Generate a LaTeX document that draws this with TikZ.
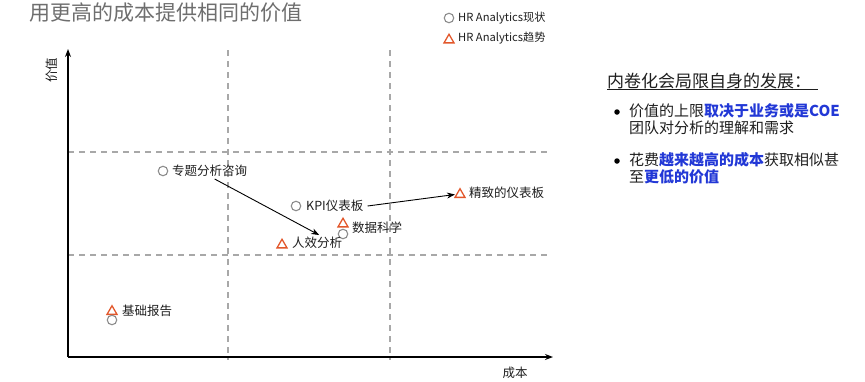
\documentclass[tikz,border=0pt]{standalone}
\usepackage{fontspec}
\setmainfont{Noto Sans CJK SC}
\usetikzlibrary{shapes.geometric,arrows.meta}
\definecolor{dashgray}{HTML}{A8A8A8}
\definecolor{markgray}{HTML}{8C8C8C}
\definecolor{triorange}{HTML}{E2572B}
\definecolor{titlegray}{HTML}{6E6E6E}
\definecolor{labelcol}{HTML}{1E1E1E}
\definecolor{hlblue}{HTML}{2238D6}
\begin{document}
\begin{tikzpicture}[x=1pt,y=-1pt,
  circ/.style={circle, draw=markgray, line width=1.1pt, minimum size=9.5pt, inner sep=0pt},
  tri/.style={regular polygon, regular polygon sides=3, draw=triorange, line width=1.3pt, minimum size=11.5pt, inner sep=0pt},
  lbl/.style={anchor=west, font=\fontsize{12.5}{14}\selectfont, text=labelcol, inner sep=0pt},
  legend/.style={anchor=west, font=\fontsize{11.2}{13}\selectfont, text=labelcol, inner sep=0pt},
  body/.style={anchor=west, font=\fontsize{15}{17}\selectfont, text=labelcol, inner sep=0pt},
  grid/.style={draw=dashgray, line width=1.2pt, dash pattern=on 6pt off 5pt},
  axis/.style={draw=black, line width=1.3pt, -{Stealth[length=8pt,width=6pt]}},
  conn/.style={draw=black, line width=0.9pt, -{Stealth[length=8pt,width=6pt]}},
  bullet/.style={circle, fill=black, minimum size=5.5pt, inner sep=0pt}
]
\useasboundingbox (0,0) rectangle (865,381);

% title
\node[anchor=west, font=\fontsize{21}{24}\selectfont, text=titlegray, inner sep=0pt] (title) at (29,13) {用更高的成本提供相同的价值};

% legend
\node[circ] (lgc) at (449,18) {};
\node[legend] (lgct) at (458,18) {HR Analytics现状};
\node[tri] (lgt) at (449,40) {};
\node[legend] (lgtt) at (458,38) {HR Analytics趋势};

% grid
\draw[grid] (228,50) -- (228,360);
\draw[grid] (390,50) -- (390,360);
\draw[grid] (68,152) -- (548,152);
\draw[grid] (68,255) -- (548,255);

% axes
\coordinate (O) at (68,357);
\coordinate (Ytop) at (68,49);
\coordinate (Xend) at (553,357);
\draw[axis] (O) -- (Ytop);
\draw[axis] (O) -- (Xend);
\node[font=\fontsize{12.5}{14}\selectfont, text=labelcol, rotate=90, inner sep=0pt] (ylab) at (52,70) {价值};
\node[font=\fontsize{12.5}{14}\selectfont, text=labelcol, inner sep=0pt] (xlab) at (515,373) {成本};

% data points
\node[circ] (zt) at (163,171) {};
\node[lbl] (ztl) at (172,171) {专题分析咨询};
\node[circ] (kpi) at (296,206) {};
\node[lbl] (kpil) at (306,206) {KPI仪表板};
\node[tri] (jz) at (460,194.5) {};
\node[lbl] (jzl) at (469,193) {精致的仪表板};
\node[tri] (sjt) at (343,224) {};
\node[circ] (sjc) at (343,234) {};
\node[lbl] (sjl) at (352,228) {数据科学};
\node[tri] (rx) at (282,245) {};
\node[lbl] (rxl) at (292,243) {人效分析};
\node[tri] (jct) at (112,311.5) {};
\node[circ] (jcc) at (112,320) {};
\node[lbl] (jcl) at (122,311) {基础报告};

% connectors
\draw[conn] ([xshift=5pt,yshift=-2pt]ztl.south) -- ([xshift=2pt,yshift=2pt]rxl.north);
\draw[conn] ([xshift=4pt]kpil.east) -- ([xshift=-1pt]jz.west);

% right panel
\node[anchor=west, font=\fontsize{17}{20}\selectfont, text=labelcol, inner sep=0pt] (head) at (607,81) {内卷化会局限自身的发展：};
\draw[labelcol, line width=0.8pt] (607,89) -- (818,89);
\node[bullet] (b1) at (617,112) {};
\node[body] (t1) at (629,111) {价值的上限\textcolor{hlblue}{\bfseries 取决于业务或是COE}};
\node[body] (t2) at (629,128) {团队对分析的理解和需求};
\node[bullet] (b2) at (617,161) {};
\node[body] (t3) at (629,160) {花费\textcolor{hlblue}{\bfseries 越来越高的成本}获取相似甚};
\node[body] (t4) at (629,177) {至\textcolor{hlblue}{\bfseries 更低的价值}};
\end{tikzpicture}
\end{document}
